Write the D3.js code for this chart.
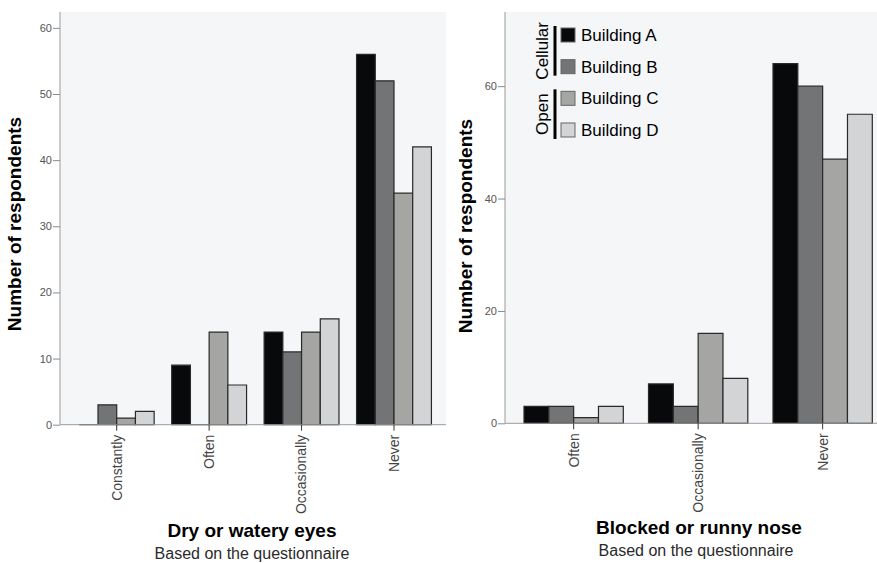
<!DOCTYPE html>
<html>
<head>
<meta charset="utf-8">
<script src="https://cdn.jsdelivr.net/npm/d3@7/dist/d3.min.js"></script>
<style>
  html, body { margin: 0; padding: 0; background: #fff; }
  svg { display: block; font-family: Arial, "Liberation Sans", sans-serif; }
</style>
</head>
<body>
<svg id="chart" width="877" height="563"></svg>
<script>
// ---- data ----
const buildings = ["Building A", "Building B", "Building C", "Building D"];
const buildingColors = ["#08090b", "#737476", "#a5a5a4", "#d3d4d6"];
const eyesCategories = ["Constantly", "Often", "Occasionally", "Never"];
const eyesValues = [
  [0, 3, 1, 2],
  [9, 0, 14, 6],
  [14, 11, 14, 16],
  [56, 52, 35, 42]
];
const eyesTicks = [0, 10, 20, 30, 40, 50, 60];
const noseCategories = ["Often", "Occasionally", "Never"];
const noseValues = [
  [3, 3, 1, 3],
  [7, 3, 16, 8],
  [64, 60, 47, 55]
];
const noseTicks = [0, 20, 40, 60];
const legendGroups = [
  { label: "Cellular", members: ["Building A", "Building B"] },
  { label: "Open", members: ["Building C", "Building D"] }
];

const svg = d3.select("#chart");
const color = d3.scaleOrdinal().domain(buildings).range(buildingColors);

function panel(cfg) {
  const g = svg.append("g");
  const y = d3.scaleLinear().domain([0, cfg.yMax]).range([cfg.y0, cfg.yTop]);
  const x = d3.scaleBand().domain(cfg.categories).range(cfg.xRange)
    .paddingInner(cfg.pad).paddingOuter(cfg.pad / 2);
  const xb = d3.scaleBand().domain(buildings).range([0, x.bandwidth()]);

  // background
  g.append("rect").attr("x", cfg.plotX0).attr("y", cfg.yTop)
    .attr("width", cfg.plotX1 - cfg.plotX0).attr("height", cfg.y0 - cfg.yTop)
    .attr("fill", "#f5f6f8");

  // bars
  cfg.categories.forEach((c, i) => {
    buildings.forEach((b, j) => {
      const v = cfg.values[i][j];
      const bx = x(c) + xb(b), bw = xb.bandwidth();
      const top = y(v), bottom = y(0);
      g.append("path")
        .attr("d", `M${bx},${bottom}V${top}H${bx + bw}V${bottom}Z`)
        .attr("fill", color(b)).attr("stroke", "#2a2a2a").attr("stroke-width", 1.2);
    });
  });

  // y axis
  const ya = g.append("g").attr("transform", `translate(${cfg.plotX0},0)`)
    .call(d3.axisLeft(y).tickValues(cfg.ticks).tickSize(7).tickPadding(1).tickFormat(d3.format("d")));
  ya.select(".domain").attr("stroke", "#9a9a9a").attr("d", `M0,${cfg.yTop}V${cfg.y0}`);
  ya.selectAll(".tick line").attr("stroke", "#8a8a8a");
  ya.selectAll(".tick text").attr("fill", "#555").style("font-size", "11px");

  // x axis
  const xa = g.append("g").attr("transform", `translate(0,${cfg.y0})`)
    .call(d3.axisBottom(x).tickSize(6).tickPadding(4));
  xa.select(".domain").attr("stroke", "#9a9a9a").attr("d", `M${cfg.plotX0},0H${cfg.plotX1}`);
  xa.selectAll(".tick line").attr("stroke", "#333");
  xa.selectAll(".tick text")
    .attr("fill", "#444").style("font-size", "14px")
    .attr("text-anchor", "end").attr("dy", "0.35em")
    .attr("transform", "rotate(-90)").attr("x", -10).attr("y", 0);

  // titles
  g.append("text").attr("transform", `translate(${cfg.yTitleX},${cfg.yTitleY}) rotate(-90)`)
    .attr("text-anchor", "middle").attr("font-weight", "bold").style("font-size", "19px")
    .attr("fill", "#000").text("Number of respondents");
  g.append("text").attr("x", cfg.xTitleX).attr("y", cfg.xTitleY)
    .attr("text-anchor", "middle").attr("font-weight", "bold").style("font-size", "19px")
    .attr("fill", "#000").text(cfg.title);
  g.append("text").attr("x", cfg.subX).attr("y", cfg.subY)
    .attr("text-anchor", "middle").style("font-size", "16px")
    .attr("fill", "#2a2a2a").text("Based on the questionnaire");
  return g;
}

panel({
  categories: eyesCategories, values: eyesValues, ticks: eyesTicks,
  yMax: 62.4, y0: 424.7, yTop: 12, plotX0: 60, plotX1: 446,
  xRange: [70.5, 440.2], pad: 0.19,
  yTitleX: 21, yTitleY: 224, title: "Dry or watery eyes",
  xTitleX: 252, xTitleY: 537, subX: 252, subY: 559
});

const right = panel({
  categories: noseCategories, values: noseValues, ticks: noseTicks,
  yMax: 73.2, y0: 423.3, yTop: 12, plotX0: 505, plotX1: 877,
  xRange: [511.4, 884.9], pad: 0.2024,
  yTitleX: 472, yTitleY: 226, title: "Blocked or runny nose",
  xTitleX: 699, xTitleY: 534, subX: 696, subY: 556
});

// legend
const legend = right.append("g");
const rowY = d3.scalePoint().domain(buildings).range([35, 130]);
buildings.forEach(b => {
  legend.append("rect").attr("x", 561).attr("y", rowY(b) - 7).attr("width", 14).attr("height", 14)
    .attr("fill", color(b)).attr("stroke", "#666").attr("stroke-width", 1);
  legend.append("text").attr("x", 581).attr("y", rowY(b)).attr("dy", "0.36em")
    .style("font-size", "17px").attr("fill", "#000").text(b);
});
legendGroups.forEach(gr => {
  const y1 = rowY(gr.members[0]) - 9, y2 = rowY(gr.members[gr.members.length - 1]) + 9;
  legend.append("line").attr("x1", 555).attr("x2", 555).attr("y1", y1).attr("y2", y2)
    .attr("stroke", "#000").attr("stroke-width", 3);
  legend.append("text").attr("transform", `translate(548,${(y1 + y2) / 2}) rotate(-90)`)
    .attr("text-anchor", "middle").style("font-size", "17px").attr("fill", "#000").text(gr.label);
});
</script>
</body>
</html>
